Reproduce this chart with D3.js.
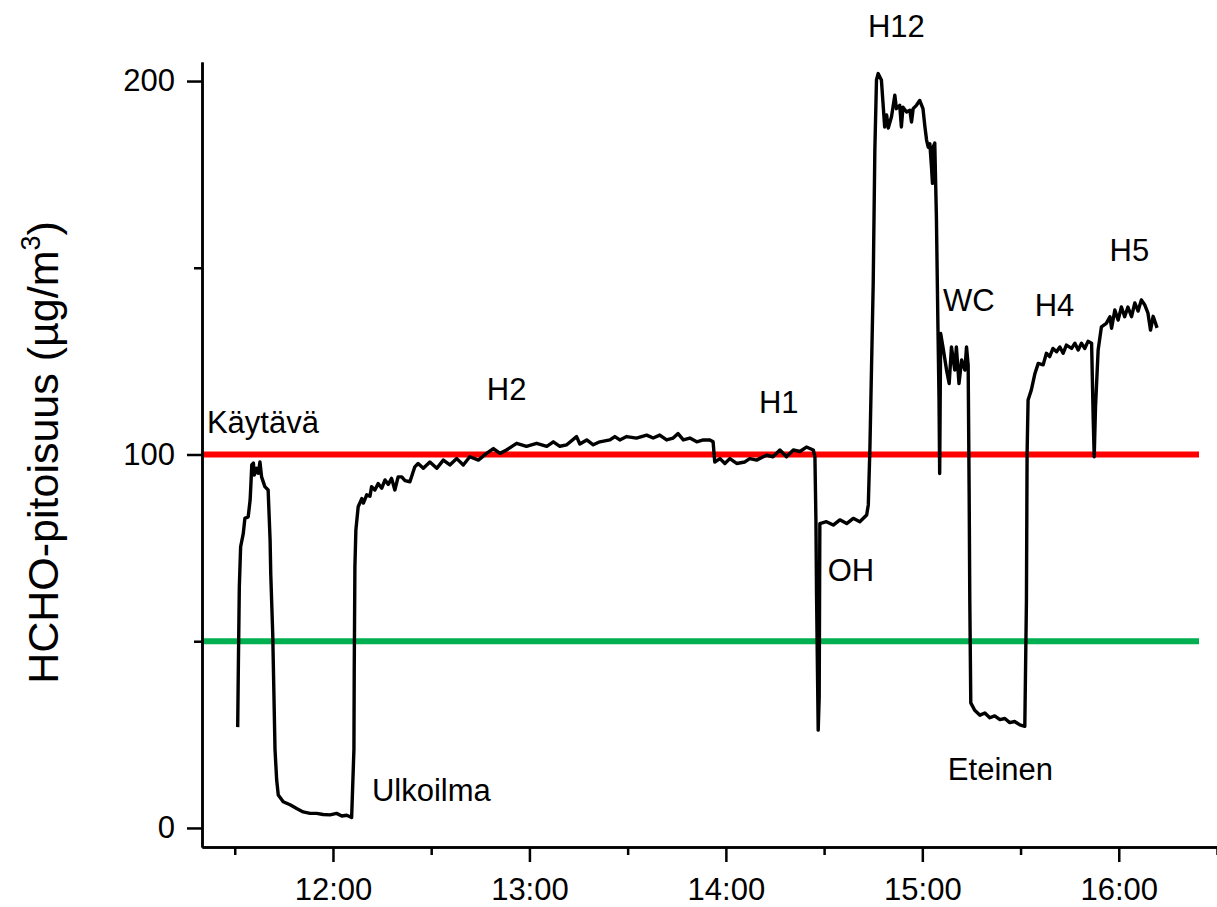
<!doctype html>
<html lang="fi">
<head>
<meta charset="utf-8">
<title>HCHO-pitoisuus</title>
<script src="https://d3js.org/d3.v7.min.js"></script>
<style>
  body { margin: 0; background: #fff; }
  svg { display: block; font-family: Arial, "Liberation Sans", sans-serif; }
</style>
</head>
<body>
<div id="chart"></div>
<script>
// measurement time, minutes after midnight
const minutes = [
  690.9, 691.1, 691.4, 691.8, 692.6, 693.1, 694.1, 694.7, 695.0, 695.2, 695.7, 696.0, 696.7, 697.2, 697.7, 698.2, 699.2, 700.2,
  700.8, 701.0, 701.6, 702.3, 702.8, 703.3, 704.8, 706.9, 708.9, 710.9, 713.0, 715.0, 717.0, 719.1, 721.1, 722.7, 724.2, 725.7,
  726.4, 726.5, 726.7, 727.0, 727.7, 728.8, 729.3, 730.3, 731.3, 731.8, 732.8, 733.8, 734.9, 735.9, 736.9, 737.9, 738.9, 739.9,
  741.0, 742.0, 743.5, 745.0, 746.0, 747.6, 749.6, 751.7, 753.7, 755.7, 757.8, 759.8, 761.8, 764.4, 766.9, 769.0, 771.0, 773.0,
  776.1, 779.1, 782.2, 785.3, 787.3, 789.3, 791.4, 794.4, 795.4, 797.5, 799.5, 801.5, 804.6, 806.1, 807.6, 809.7, 812.7, 815.8,
  817.8, 819.8, 821.9, 823.9, 825.4, 827.0, 829.0, 831.1, 833.1, 835.1, 836.1, 836.6, 838.2, 839.7, 841.2, 843.3, 845.8, 847.3,
  849.4, 852.4, 854.4, 856.5, 858.5, 860.6, 862.6, 864.6, 866.7, 867.2, 867.5, 867.7, 868.2, 868.5, 868.7, 870.7, 872.8, 874.8,
  876.9, 878.9, 880.9, 883.0, 883.5, 884.0, 885.0, 885.5, 886.0, 886.5, 887.5, 888.0, 888.5, 889.1, 889.6, 890.6, 891.6, 892.1,
  893.1, 893.6, 894.1, 895.2, 896.2, 896.7, 897.2, 898.2, 899.2, 900.2, 900.8, 901.3, 901.8, 902.3, 902.8, 903.1, 903.3, 903.8,
  904.3, 904.8, 905.1, 905.3, 905.6, 906.3, 907.4, 908.2, 908.9, 909.9, 910.4, 911.2, 912.0, 913.0, 913.5, 914.0, 914.3, 914.5,
  914.8, 916.0, 917.6, 919.1, 920.6, 922.1, 923.7, 925.2, 926.7, 928.2, 929.8, 931.3, 931.8, 932.0, 932.3, 933.3, 934.4, 935.4,
  936.9, 937.9, 938.9, 939.9, 941.0, 942.0, 943.0, 944.0, 945.6, 946.6, 947.6, 948.6, 949.6, 950.6, 951.7, 952.2, 952.5, 952.9,
  953.7, 954.7, 956.2, 957.3, 957.8, 958.8, 959.8, 960.8, 961.8, 962.8, 963.9, 964.9, 965.9, 966.9, 967.9, 968.9, 969.7, 970.5,
  971.7
];
// HCHO concentration, µg/m3
const hcho = [
  27, 43, 64.6, 75.3, 78.8, 82.9, 83.3, 87.8, 93.2, 97.2, 97.7, 94.5, 96.3, 95, 98, 94, 91.4, 90.5,
  77, 68, 52, 21, 12.9, 8.8, 7, 6.2, 5.2, 4.3, 3.9, 3.9, 3.6, 3.5, 3.9, 3.2, 3.4, 2.8,
  21, 43, 70, 79.8, 86, 88.2, 87, 89.2, 88.8, 91.4, 90.5, 92.2, 91, 93.2, 92, 93.6, 90.5, 94,
  94, 93, 92.7, 96.7, 97.6, 96.3, 98, 96.3, 98.5, 97.2, 98.9, 97.2, 99.4, 98.5, 100.3, 101.6, 100.3, 101.2,
  103, 102.2, 103, 102.2, 103.4, 102.2, 102.6, 104.8, 102.8, 103.9, 102.6, 103.4, 103.9, 104.8, 103.9, 104.8, 104.4, 105.2,
  104.4, 105.2, 103.9, 104.4, 105.6, 103.9, 104.4, 103.4, 103.9, 103.9, 103.4, 98, 98.9, 97.6, 98.9, 97.6, 98, 98.9,
  98.5, 99.8, 99.4, 101.2, 99.4, 101.2, 100.8, 102, 101.2, 99.4, 82.5, 61.9, 26.2, 35, 81.5, 82, 81.1, 82.5,
  81.5, 82.9, 82, 83.8, 86.5, 102, 145.8, 181.5, 200.3, 202, 200.3, 194, 187.7, 190.9, 187.4, 190.5, 196.2, 192.6,
  193.5, 187.7, 193, 191.7, 192.2, 189, 192.6, 193.5, 194.8, 192.6, 187.7, 184.2, 182.3, 183.2, 177, 172.6, 182.3, 183.4,
  163.6, 132.4, 114.6, 94.9, 132.4, 128.8, 122.6, 119, 128.8, 122.6, 128.8, 119, 125.3, 122.6, 128.8, 124, 90, 61,
  33.5, 31.5, 30.2, 30.8, 29.5, 30, 29, 29.3, 28.2, 28.5, 27.6, 27.2, 61, 100.3, 114.6, 117.3, 121.7, 124.4,
  124, 127.1, 126.2, 128.4, 127.5, 128.8, 127.1, 129.3, 128.4, 129.8, 128, 129.8, 128.4, 130.3, 129.8, 109.2, 99.4, 112.8,
  128, 134.2, 135.1, 136.9, 133.8, 138.7, 136, 139.5, 136.9, 139.5, 136.9, 140.6, 138.4, 141.4, 140.1, 137.9, 133.3, 137,
  133.9
];

// reference levels
const limits = [100, 50];

// room labels placed at (minutes, µg/m3)
const roomNames = ["Käytävä", "Ulkoilma", "H2", "H1", "OH", "H12", "WC", "H4", "H5", "Eteinen"];
const roomMinutes = [681.5, 731.9, 767.0, 850.1, 871.1, 883.4, 906.3, 934.3, 957.2, 907.8];
const roomValues = [105.8, 7.2, 114.6, 111.1, 66.1, 211.8, 138.4, 137.1, 151.8, 12.9];

const yMajor = [0, 100, 200];
const yMinor = [50, 150];
const xMajorLabels = ["12:00", "13:00", "14:00", "15:00", "16:00"];
const xMinorLabels = ["11:30", "12:30", "13:30", "14:30", "15:30", "16:30"];

const W = 1217, H = 907;
const day = new Date(2000, 0, 1);
const toDate = m => new Date(day.getTime() + m * 60000);
const parse = d3.timeParse("%H:%M");
const asDay = s => { const p = parse(s); return new Date(2000, 0, 1, p.getHours(), p.getMinutes()); };

const x = d3.scaleTime()
  .domain([toDate(680), toDate(990)])
  .range([202, 1217]);
const y = d3.scaleLinear()
  .domain([-5.1, 205.1])
  .range([847, 62]);

const svg = d3.select("#chart").append("svg")
  .attr("width", W).attr("height", H);

svg.append("rect").attr("width", W).attr("height", H).attr("fill", "#fff");

// limit lines
const limitColor = ["#ff0000", "#00b050"];
svg.selectAll("line.limit")
  .data(limits)
  .join("line")
  .attr("class", "limit")
  .attr("x1", x.range()[0] + 1)
  .attr("x2", 1199)
  .attr("y1", d => y(d))
  .attr("y2", d => y(d))
  .attr("stroke", (d, i) => limitColor[i])
  .attr("stroke-width", 6);

// measurement line
const pts = minutes.map((m, i) => [toDate(m), hcho[i]]);
const line = d3.line()
  .x(d => x(d[0]))
  .y(d => y(d[1]));

svg.append("path")
  .datum(pts)
  .attr("d", line)
  .attr("fill", "none")
  .attr("stroke", "#000")
  .attr("stroke-width", 3.4)
  .attr("stroke-linejoin", "round");

// axes
const styleAxis = g => {
  g.select(".domain").attr("stroke", "#000").attr("stroke-width", 2.5);
  g.selectAll(".tick line").attr("stroke", "#000").attr("stroke-width", 2.5);
  g.selectAll(".tick text").attr("fill", "#000").attr("font-size", 31)
    .attr("font-family", "Arial, 'Liberation Sans', sans-serif");
};

svg.append("g")
  .attr("transform", `translate(0,${y.range()[0]})`)
  .call(d3.axisBottom(x).tickValues(xMinorLabels.map(asDay)).tickFormat("").tickSize(8).tickSizeOuter(0))
  .call(styleAxis);

svg.append("g")
  .attr("transform", `translate(0,${y.range()[0]})`)
  .call(d3.axisBottom(x).tickValues(xMajorLabels.map(asDay)).tickFormat(d3.timeFormat("%H:%M"))
    .tickSize(15).tickPadding(16).tickSizeOuter(0))
  .call(styleAxis);

svg.append("g")
  .attr("transform", `translate(${x.range()[0]},0)`)
  .call(d3.axisLeft(y).tickValues(yMinor).tickFormat("").tickSize(8).tickSizeOuter(0))
  .call(styleAxis);

svg.append("g")
  .attr("transform", `translate(${x.range()[0]},0)`)
  .call(d3.axisLeft(y).tickValues(yMajor).tickSize(15).tickPadding(12).tickSizeOuter(0))
  .call(styleAxis);

// y title
const yt = svg.append("text")
  .attr("transform", `translate(58,${(y.range()[0] + y.range()[1]) / 2 - 2}) rotate(-90)`)
  .attr("text-anchor", "middle")
  .attr("font-size", 43)
  .attr("fill", "#000");
yt.append("tspan").text("HCHO-pitoisuus (µg/m");
yt.append("tspan").attr("font-size", 27).attr("dy", -18).text("3");
yt.append("tspan").attr("dy", 18).text(")");

// room labels
svg.selectAll("text.room")
  .data(roomNames)
  .join("text")
  .attr("class", "room")
  .attr("x", (d, i) => x(toDate(roomMinutes[i])))
  .attr("y", (d, i) => y(roomValues[i]))
  .attr("font-size", 31)
  .attr("fill", "#000")
  .text(d => d);
</script>
</body>
</html>
